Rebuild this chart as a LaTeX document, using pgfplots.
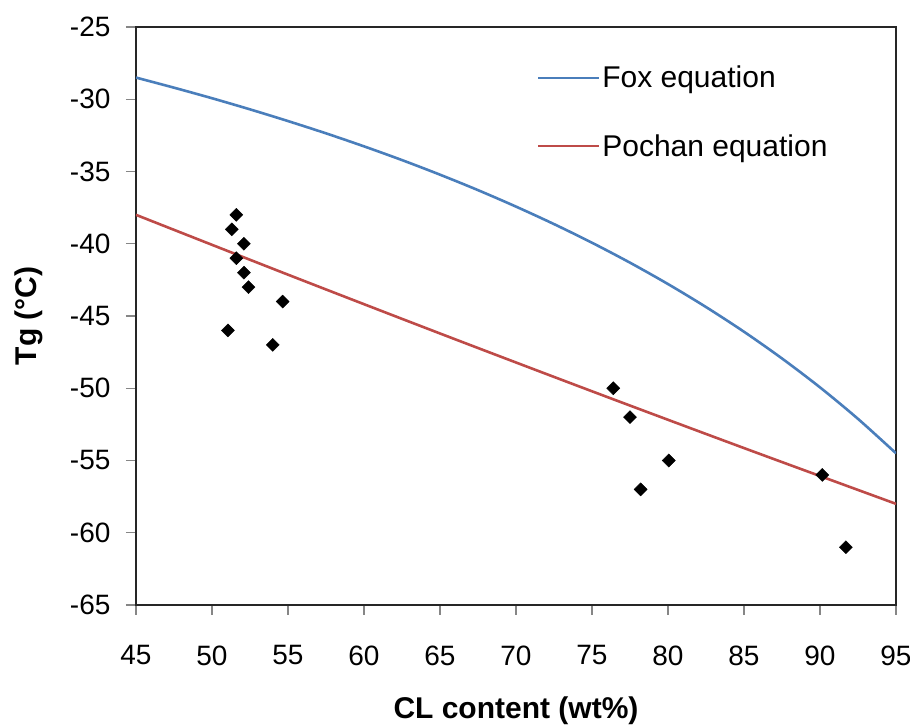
\documentclass[border=0pt]{standalone}
\usepackage{pgfplots}
\pgfplotsset{compat=1.18}
\usepackage{fontspec}
\setmainfont{Liberation Sans}
\definecolor{foxblue}{HTML}{4A7EBB}
\definecolor{pochred}{HTML}{BE4B48}
\definecolor{tickgray}{HTML}{868686}
\begin{document}
\begin{tikzpicture}
\begin{axis}[
  scale only axis,
  width=760pt, height=578pt,
  xmin=45, xmax=95, ymin=-65, ymax=-25,
  xtick={45,50,...,95}, ytick={-65,-60,...,-25},
  tick pos=left,
  tick align=outside,
  major tick length=10pt,
  tick style={color=tickgray, line width=1.2pt},
  axis line style={line width=1.5pt, color=black!85},
  /pgf/number format/assume math mode=true,
  ticklabel style={font=\fontsize{28}{33}\selectfont},
  xticklabel style={yshift=-27pt},
  yticklabel style={xshift=-12pt},
  xlabel={\textbf{CL content (wt\%)}},
  ylabel={\textbf{Tg (°C)}},
  label style={font=\fontsize{30}{35}\selectfont},
  xlabel style={yshift=-25pt},
  ylabel style={yshift=20pt},
  legend style={draw=none, fill=none, at={(rel axis cs:0.527,0.936)}, anchor=north west,
    font=\fontsize{30}{34}\selectfont, row sep=41pt, inner sep=0pt},
  legend cell align=left,
  legend image code/.code={\draw[#1] (0pt,0pt) -- (61pt,0pt);},
]
\addplot[color=foxblue, line width=2.6pt, smooth] coordinates {
(45,-28.50) (47.5,-29.20) (50,-29.93) (52.5,-30.70) (55,-31.51) (57.5,-32.36)
(60,-33.26) (62.5,-34.21) (65,-35.22) (67.5,-36.29) (70,-37.43) (72.5,-38.64)
(75,-39.93) (77.5,-41.31) (80,-42.79) (82.5,-44.38) (85,-46.09) (87.5,-47.94)
(90,-49.94) (92.5,-52.12) (95,-54.50)};
\addlegendentry{Fox equation}
\addplot[color=pochred, line width=2.6pt, smooth] coordinates {
(45,-38.00) (55,-42.14) (65,-46.21) (75,-50.21) (85,-54.14) (95,-58.00)};
\addlegendentry{Pochan equation}
\addplot[only marks, mark=square*, mark size=4.6pt, mark options={rotate=45, fill=black, draw=black}, forget plot] coordinates {
(51.6,-38) (51.3,-39) (52.1,-40) (51.6,-41) (52.1,-42) (52.4,-43) (54.65,-44)
(51.05,-46) (54.0,-47) (76.4,-50) (77.5,-52) (80.05,-55) (78.2,-57) (90.15,-56) (91.7,-61)};
\end{axis}
\pgfresetboundingbox
\path[use as bounding box] (-136pt,-122pt) rectangle (774pt,605pt);
\end{tikzpicture}
\end{document}
